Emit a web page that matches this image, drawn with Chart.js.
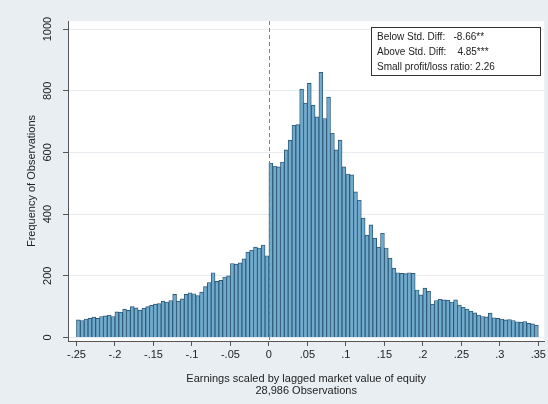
<!DOCTYPE html>
<html>
<head>
<meta charset="utf-8">
<script src="https://cdn.jsdelivr.net/npm/chart.js@4.4.0/dist/chart.umd.min.js"></script>
<style>
  html, body { margin: 0; padding: 0; background: #e9eef2; overflow: hidden; }
  #hist { display: block; width: 548px; height: 404px; }
</style>
</head>
<body>
<canvas id="hist" width="548" height="404"></canvas>
<script>
// Histogram bins: left edge of first bin and bin width
const binStart = -0.25;
const binWidth = 0.005;

// Frequency of observations in each bin (120 bins, -0.25 to 0.35)
const frequencies = [
  57, 55, 60, 62, 66, 62, 68, 70, 72, 68,
  83, 82, 92, 88, 100, 96, 89, 95, 100, 104,
  108, 110, 118, 115, 120, 140, 118, 125, 140, 145,
  142, 136, 147, 165, 178, 210, 182, 185, 196, 200,
  240, 238, 242, 255, 277, 283, 293, 290, 300, 265,
  565, 556, 553, 569, 608, 640, 688, 690, 805, 760,
  824, 753, 715, 860, 710, 779, 662, 608, 640, 553,
  530, 527, 472, 445, 387, 332, 365, 322, 293, 338,
  290, 257, 225, 210, 208, 207, 210, 208, 154, 138,
  160, 150, 108, 120, 124, 122, 121, 115, 122, 105,
  98, 92, 85, 80, 73, 68, 67, 79, 64, 62,
  60, 57, 58, 55, 51, 50, 52, 46, 44, 40
];

// Axis tick values
const xTickValues = [-0.25, -0.2, -0.15, -0.1, -0.05, 0, 0.05, 0.1, 0.15, 0.2, 0.25, 0.3, 0.35];
const yTickValues = [0, 200, 400, 600, 800, 1000];

// Text in the statistics box
const statLines = [
  "Below Std. Diff:   -8.66**",
  "Above Std. Diff:    4.85***",
  "Small profit/loss ratio: 2.26"
];

const xTitle = ["Earnings scaled by lagged market value of equity", "28,986 Observations"];
const yTitle = "Frequency of Observations";

const FONT = "'Liberation Sans', Arial, sans-serif";
const TEXT = "#222";

// Stata-style tick label: ".05", "-.1", "0"
function stataNum(v) {
  let s = (Math.round(v * 1000) / 1000).toString();
  if (s === "0" || s === "-0") return "0";
  s = s.replace(/^(-?)0\./, "$1.");
  return s;
}

const binPoints = frequencies.map((f, i) => ({ x: binStart + binWidth * (i + 0.5), y: f }));

const plotBackground = {
  id: "plotBackground",
  beforeDraw(chart) {
    const { ctx, chartArea: a } = chart;
    ctx.save();
    ctx.fillStyle = "#ffffff";
    ctx.fillRect(a.left, a.top, a.right - a.left, a.bottom - a.top);
    ctx.restore();
  }
};

const zeroLine = {
  id: "zeroLine",
  afterDatasetsDraw(chart) {
    const { ctx, chartArea: a, scales } = chart;
    const x = Math.round(scales.x.getPixelForValue(0)) + 0.5;
    ctx.save();
    ctx.strokeStyle = "#a07476";
    ctx.lineWidth = 1;
    ctx.setLineDash([4, 3]);
    ctx.beginPath();
    ctx.moveTo(x, a.top);
    ctx.lineTo(x, a.bottom);
    ctx.stroke();
    ctx.restore();
  }
};

const statBox = {
  id: "statBox",
  afterDraw(chart) {
    const { ctx } = chart;
    ctx.save();
    const bx = 371.5, by = 27.5, bw = 169, bh = 48;
    ctx.fillStyle = "#ffffff";
    ctx.fillRect(bx, by, bw, bh);
    ctx.strokeStyle = "#333";
    ctx.lineWidth = 1;
    ctx.strokeRect(bx, by, bw, bh);
    ctx.fillStyle = TEXT;
    ctx.font = "10px " + FONT;
    ctx.textBaseline = "middle";
    ctx.textAlign = "left";
    statLines.forEach((t, i) => ctx.fillText(t, 377, 37 + i * 15));
    ctx.restore();
  }
};

new Chart(document.getElementById("hist"), {
  type: "bar",
  data: {
    datasets: [{
      data: binPoints,
      backgroundColor: "#70aacd",
      borderColor: "#2a5573",
      borderWidth: 0.9,
      barPercentage: 1,
      categoryPercentage: 1
    }]
  },
  options: {
    responsive: false,
    animation: false,
    devicePixelRatio: 1,
    layout: { padding: { left: 0, right: 2, top: 21, bottom: 0 } },
    plugins: { legend: { display: false }, tooltip: { enabled: false } },
    scales: {
      x: {
        type: "linear",
        offset: false,
        min: -0.261,
        max: 0.3578,
        afterBuildTicks(scale) { scale.ticks = xTickValues.map(v => ({ value: v })); },
        afterFit(scale) { scale.height = 63; },
        ticks: {
          autoSkip: false, maxRotation: 0, minRotation: 0, padding: 2,
          color: TEXT, font: { family: FONT, size: 11 },
          callback: v => stataNum(v)
        },
        grid: { offset: false, drawOnChartArea: false, drawTicks: true, tickLength: 5, color: "#555" },
        border: { display: true, color: "#555", width: 1 },
        title: {
          display: true, text: xTitle, color: TEXT,
          font: { family: FONT, size: 11, lineHeight: 1.1 },
          padding: { top: 0, bottom: 7 }
        }
      },
      y: {
        type: "linear",
        min: -11.3,
        max: 1026,
        afterBuildTicks(scale) { scale.ticks = yTickValues.map(v => ({ value: v })); },
        afterFit(scale) { scale.width = 68; },
        ticks: {
          autoSkip: false, minRotation: 90, maxRotation: 90, crossAlign: "center", padding: 3,
          color: TEXT, font: { family: FONT, size: 11 },
          callback: v => String(v)
        },
        grid: { drawOnChartArea: true, drawTicks: true, tickLength: 5, color: "#e6ecf0", tickColor: "#555" },
        border: { display: true, color: "#555", width: 1 },
        title: {
          display: true, text: yTitle, color: TEXT,
          font: { family: FONT, size: 11 },
          padding: { top: 25, bottom: 0 }
        }
      }
    }
  },
  plugins: [plotBackground, zeroLine, statBox]
});
</script>
</body>
</html>
